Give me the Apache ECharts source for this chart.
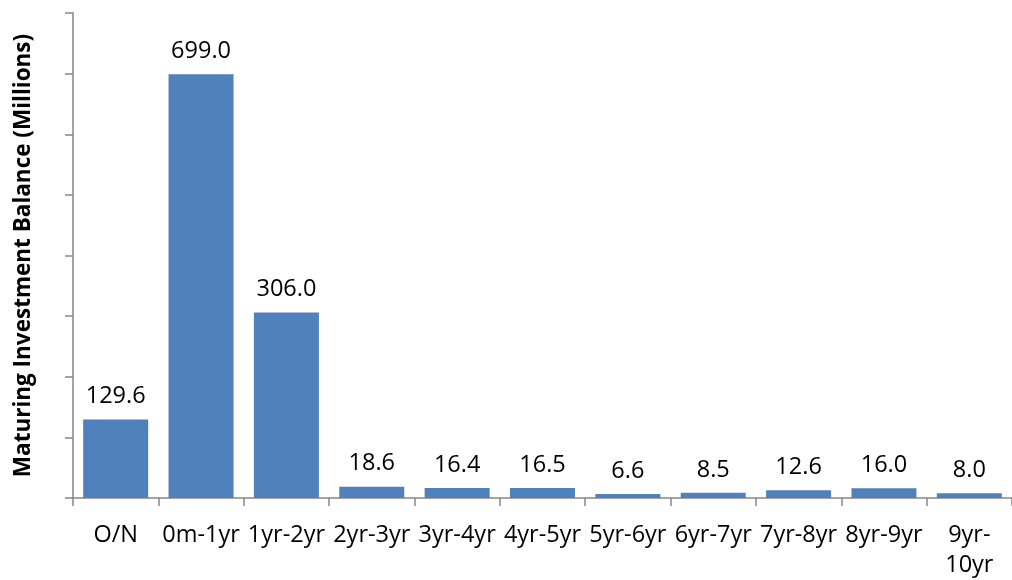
<!DOCTYPE html>
<html><head><meta charset="utf-8">
<script src="https://cdn.jsdelivr.net/npm/echarts@6/dist/echarts.min.js"></script>
<style>html,body{margin:0;padding:0;background:#fff}#c{width:1012px;height:580px}</style>
</head><body><div id="c"></div>
<script>
const categories = ["O/N","0m-1yr","1yr-2yr","2yr-3yr","3yr-4yr","4yr-5yr","5yr-6yr","6yr-7yr","7yr-8yr","8yr-9yr","9yr-10yr"];
const balances = [129.6, 699.0, 306.0, 18.6, 16.4, 16.5, 6.6, 8.5, 12.6, 16.0, 8.0];
const yAxisName = "Maturing Investment Balance (Millions)";
const font = "Open Sans, Liberation Sans, sans-serif";
const chart = echarts.init(document.getElementById('c'));
chart.setOption({
  animation:false,
  grid:{left:73,right:-12.5,top:13,bottom:79,containLabel:false},
  xAxis:{type:'category',data:categories,
    axisLine:{lineStyle:{color:'#868686',width:1.5}},
    axisTick:{show:true,length:8,lineStyle:{color:'#868686',width:1.5}},
    axisLabel:{color:'#000',fontSize:23.5,fontFamily:font,margin:22,lineHeight:30,interval:0,
      formatter:v=>v==="9yr-10yr"?"9yr-\n10yr":v}},
  yAxis:{type:'value',min:0,max:800,interval:100,
    name:yAxisName,nameLocation:'middle',nameGap:38,
    nameTextStyle:{color:'#000',fontSize:22.5,fontWeight:'bold',fontFamily:font},
    axisLine:{show:true,lineStyle:{color:'#868686',width:1.5}},
    axisTick:{show:true,length:8,lineStyle:{color:'#868686',width:1.5}},
    axisLabel:{show:false},splitLine:{show:false}},
  series:[{type:'bar',data:balances,barWidth:65,
    itemStyle:{color:'#4F81BD'},
    label:{show:true,position:'top',distance:11,color:'#000',fontSize:23.5,fontFamily:font,
      formatter:p=>p.value.toFixed(1)}}]
});
</script></body></html>
